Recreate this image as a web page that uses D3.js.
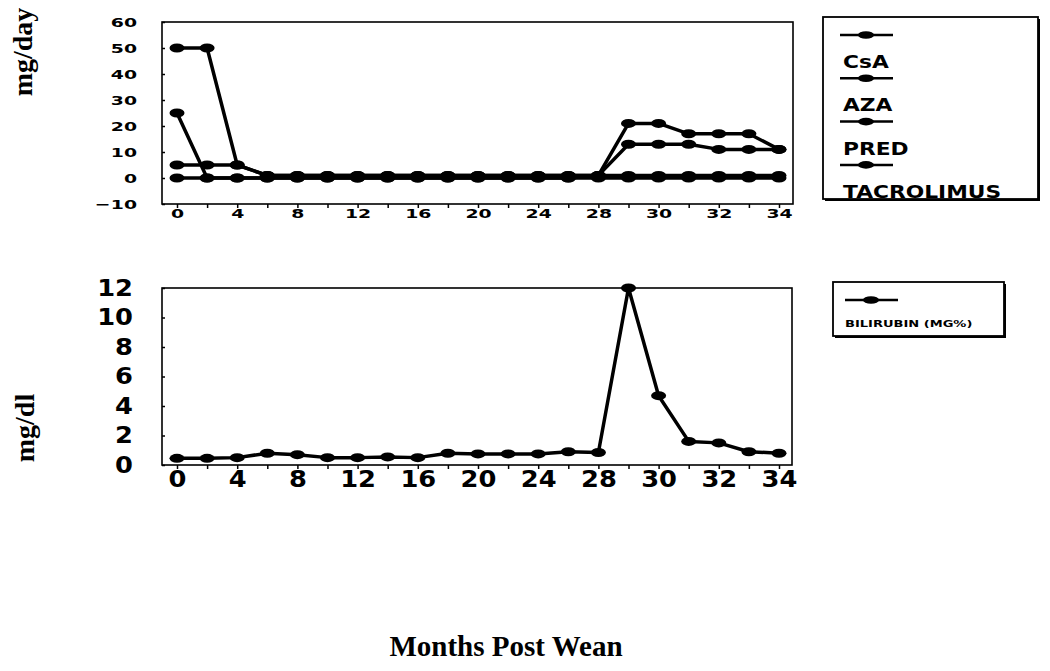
<!DOCTYPE html>
<html>
<head>
<meta charset="utf-8">
<script src="https://cdn.jsdelivr.net/npm/d3@7"></script>
<style>
  body { margin: 0; background: #fff; }
  svg { display: block; }
  .tick line { stroke: #000; stroke-width: 1.5; }
</style>
</head>
<body>
<svg id="chart" width="1050" height="671"></svg>
<script>
// months on the x axis (categorical, evenly spaced points)
const months = [0,2,4,6,8,10,12,14,16,18,20,22,24,26,28,29,30,31,32,33,34];
const monthLabels = [0,4,8,12,16,20,24,28,30,32,34];

// top panel: drug doses, mg/day
const drugNames = ["CsA", "AZA", "PRED", "TACROLIMUS"];
const csa   = [25,0,0,0,0,0,0,0,0,0,0,0,0,0,0,0,0,0,0,0,0];
const aza   = [50,50,5,1,1,1,1,1,1,1,1,1,1,1,1,1,1,1,1,1,1];
const pred  = [5,5,5,1,1,1,1,1,1,1,1,1,1,1,1,21,21,17,17,17,11];
const tacro = [0,0,0,0,0,0,0,0,0,0,0,0,0,0,1,13,13,13,11,11,11];
const topTicks = [-10,0,10,20,30,40,50,60];

// bottom panel: bilirubin, mg/dl
const biliName = "BILIRUBIN (MG%)";
const bili = [0.45,0.45,0.5,0.8,0.7,0.5,0.5,0.55,0.5,0.8,0.75,0.75,0.75,0.9,0.85,12,4.7,1.6,1.5,0.9,0.8];
const botTicks = [0,2,4,6,8,10,12];

const svg = d3.select("#chart");
const sans = "DejaVu Sans, sans-serif";
const serif = "Liberation Serif, Times New Roman, serif";

const x = d3.scalePoint().domain(months).range([177, 779]);

function wideText(g, px, py, str, size, sx, anchor) {
  return g.append("text")
    .attr("transform", "translate(" + px + "," + py + ") scale(" + sx + ",1)")
    .attr("font-family", sans).attr("font-weight", "bold")
    .attr("font-size", size).attr("text-anchor", anchor || "start")
    .text(str);
}

function drawSeries(g, y, vals) {
  const line = d3.line().x((d, i) => x(months[i])).y(d => y(d));
  g.append("path").datum(vals)
    .attr("d", line).attr("fill", "none")
    .attr("stroke", "#000").attr("stroke-width", 3.5)
    .attr("stroke-linejoin", "round");
  g.selectAll(null).data(vals).enter().append("ellipse")
    .attr("cx", (d, i) => x(months[i])).attr("cy", d => y(d))
    .attr("rx", 7.5).attr("ry", 4.5).attr("fill", "#000");
}

function panel(opt) {
  const g = svg.append("g");
  const y = d3.scaleLinear().domain(opt.domain).range([opt.bottom, opt.top]);

  // x axis
  const xa = g.append("g").attr("transform", "translate(0," + opt.bottom + ")")
    .call(d3.axisBottom(x).tickSize(4).tickPadding(opt.xPad)
      .tickFormat(d => monthLabels.includes(d) ? d : ""));
  xa.select(".domain").remove();
  xa.selectAll("text").attr("font-family", sans).attr("font-weight", "bold")
    .attr("font-size", opt.fs).attr("fill", "#000")
    .attr("transform", "scale(" + opt.sx + ",1)");

  // y axis
  const ya = g.append("g").attr("transform", "translate(" + opt.left + ",0)")
    .call(d3.axisLeft(y).tickValues(opt.ticks).tickSize(-3).tickPadding(opt.yPad));
  ya.select(".domain").remove();
  ya.selectAll("text").attr("font-family", sans).attr("font-weight", "bold")
    .attr("font-size", opt.fs).attr("fill", "#000")
    .attr("x", -opt.yPad / opt.sx)
    .attr("transform", "scale(" + opt.sx + ",1)");

  // frame
  g.append("rect").attr("x", opt.left).attr("y", opt.top)
    .attr("width", opt.right - opt.left).attr("height", opt.bottom - opt.top)
    .attr("fill", "none").attr("stroke", "#000").attr("stroke-width", 1.6);

  opt.series.forEach(s => drawSeries(g, y, s));
  return g;
}

panel({ domain: [-10, 60], top: 22, bottom: 204, left: 162, right: 793,
        ticks: topTicks, fs: 13, sx: 1.45, xPad: 1, yPad: 25,
        series: [tacro, csa, aza, pred] });

panel({ domain: [0, 12], top: 288, bottom: 465, left: 162, right: 792,
        ticks: botTicks, fs: 23, sx: 1.12, xPad: 1.5, yPad: 29,
        series: [bili] });

// legends
function legendBox(x0, y0, w, h) {
  svg.append("rect").attr("x", x0 + 2).attr("y", y0 + 2).attr("width", w).attr("height", h)
    .attr("fill", "#000");
  svg.append("rect").attr("x", x0).attr("y", y0).attr("width", w).attr("height", h)
    .attr("fill", "#fff").attr("stroke", "#000").attr("stroke-width", 1.8);
}
function legendLine(x0, y0) {
  svg.append("line").attr("x1", x0).attr("x2", x0 + 53).attr("y1", y0).attr("y2", y0)
    .attr("stroke", "#000").attr("stroke-width", 2.5);
  svg.append("ellipse").attr("cx", x0 + 26).attr("cy", y0).attr("rx", 8).attr("ry", 3.8)
    .attr("fill", "#000");
}

legendBox(823, 17, 215, 182);
drugNames.forEach((n, i) => {
  const ly = 35 + i * 43.3;
  legendLine(840, ly);
  wideText(svg, 843, ly + 33, n, 17, 1.28);
});

legendBox(833, 282, 171, 54);
legendLine(845, 300);
wideText(svg, 845, 327, biliName, 9, 1.45);

// axis titles
svg.append("text").attr("transform", "translate(32,52) rotate(-90)")
  .attr("text-anchor", "middle").attr("font-family", serif).attr("font-weight", "bold")
  .attr("font-size", 28).text("mg/day");
svg.append("text").attr("transform", "translate(34,428) rotate(-90)")
  .attr("text-anchor", "middle").attr("font-family", serif).attr("font-weight", "bold")
  .attr("font-size", 28).text("mg/dl");
svg.append("text").attr("x", 506).attr("y", 656)
  .attr("text-anchor", "middle").attr("font-family", serif).attr("font-weight", "bold")
  .attr("font-size", 29).text("Months Post Wean");
</script>
</body>
</html>
